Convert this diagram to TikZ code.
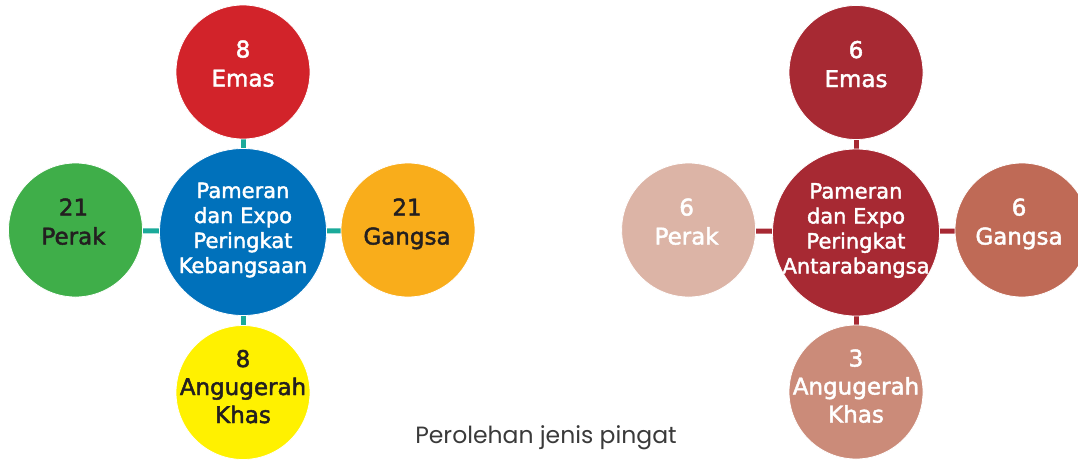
\documentclass[tikz,border=0pt]{standalone}
\usepackage{fontspec}
\setmainfont{DejaVu Sans}
\newfontfamily\labfont{DejaVu Sans}[FakeBold=2]
\newfontfamily\capfont{Poppins}
\usetikzlibrary{backgrounds}
\definecolor{Lred}{HTML}{D2232A}
\definecolor{Lblue}{HTML}{0071BB}
\definecolor{Lgreen}{HTML}{3FAE49}
\definecolor{Lorange}{HTML}{F9AD1B}
\definecolor{Lyellow}{HTML}{FFF100}
\definecolor{Lteal}{HTML}{1BAA9A}
\definecolor{Rdark}{HTML}{A72933}
\definecolor{Rpale}{HTML}{DCB4A6}
\definecolor{Rmid}{HTML}{BF6A56}
\definecolor{Rlight}{HTML}{CB8B79}
\definecolor{Dtext}{HTML}{231F20}
\definecolor{Ctext}{HTML}{3A3A3A}
\newcommand\cl[1]{\hbox to 0pt{\hss#1\hss}}
\newcommand\twol[2]{\vtop{\baselineskip=29pt\cl{#1}\cl{#2}}}
\newcommand\threel[3]{\vtop{\baselineskip=28pt\cl{#1}\cl{#2}\cl{#3}}}
\newcommand\fourl[4]{\vtop{\baselineskip=25pt\cl{#1}\cl{#2}\cl{#3}\cl{#4}}}
\tikzset{
  outer/.style={circle,draw=white,line width=0.8pt,minimum size=134pt,inner sep=0pt},
  hub/.style={circle,draw=white,line width=0.8pt,minimum size=167pt,inner sep=0pt},
  lab/.style={anchor=base,inner sep=0pt,font=\labfont\fontsize{23}{29}\selectfont},
  hublab/.style={anchor=base,inner sep=0pt,text=white,font=\labfont\fontsize{21}{25}\selectfont},
  linkL/.style={draw=Lteal,line width=5pt},
  linkR/.style={draw=Rdark,line width=5pt},
}
\begin{document}
\begin{tikzpicture}[x=1pt,y=-1pt]
\useasboundingbox (0,0) rectangle (1078,459);
% left diagram
\node[hub,fill=Lblue] (lc) at (243,232) {};
\node[outer,fill=Lred] (lt) at (243,72) {};
\node[outer,fill=Lgreen] (ll) at (75.5,230) {};
\node[outer,fill=Lorange] (lr) at (408,230) {};
\node[outer,fill=Lyellow] (lb) at (243,392.5) {};
% right diagram
\node[hub,fill=Rdark] (rc) at (856,232.5) {};
\node[outer,fill=Rdark] (rt) at (856,72.5) {};
\node[outer,fill=Rpale] (rl) at (688.6,230) {};
\node[outer,fill=Rmid] (rr) at (1022,230) {};
\node[outer,fill=Rlight] (rb) at (856,392) {};
\begin{scope}[on background layer]
\draw[linkL] (lc.center) -- (lt.center);
\draw[linkL] (lc.center) -- (ll.center);
\draw[linkL] (lc.center) -- (lr.center);
\draw[linkL] (lc.center) -- (lb.center);
\draw[linkR] (rc.center) -- (rt.center);
\draw[linkR] (rc.center) -- (rl.center);
\draw[linkR] (rc.center) -- (rr.center);
\draw[linkR] (rc.center) -- (rb.center);
\end{scope}
% texts
\node[hublab,yshift=34pt] (lct) at (lc.center) {\fourl{Pameran}{dan Expo}{Peringkat}{Kebangsaan}};
\node[lab,text=white,yshift=14.5pt] (ltt) at (lt.center) {\twol{8}{Emas}};
\node[lab,text=Dtext,yshift=14.5pt,xshift=-2pt] (llt) at (ll.center) {\twol{21}{Perak}};
\node[lab,text=Dtext,yshift=14.5pt,xshift=-1pt] (lrt) at (lr.center) {\twol{21}{Gangsa}};
\node[lab,text=Dtext,yshift=25.5pt] (lbt) at (lb.center) {\threel{8}{Angugerah}{Khas}};
\node[hublab,yshift=34pt] (rct) at (rc.center) {\fourl{Pameran}{dan Expo}{Peringkat}{Antarabangsa}};
\node[lab,text=white,yshift=14.5pt] (rtt) at (rt.center) {\twol{6}{Emas}};
\node[lab,text=white,yshift=14.5pt,xshift=-2pt] (rlt) at (rl.center) {\twol{6}{Perak}};
\node[lab,text=white,yshift=14.5pt,xshift=-3pt] (rrt) at (rr.center) {\twol{6}{Gangsa}};
\node[lab,text=white,yshift=25.5pt] (rbt) at (rb.center) {\threel{3}{Angugerah}{Khas}};
\node[font=\capfont\fontsize{23.5}{27}\selectfont,text=Ctext,anchor=base] (cap) at (546,443) {Perolehan jenis pingat};
\end{tikzpicture}
\end{document}
